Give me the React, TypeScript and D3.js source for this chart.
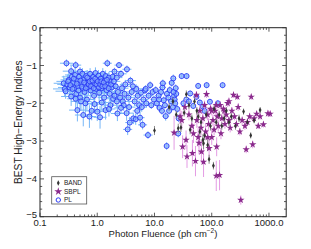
import React from "react";
import * as d3 from "d3";

// PL: [fluence, index, fluence error factor, index error]
const plData: [number, number, number, number][] = [
  [0.29, -0.94, 1.3, 0.1], [0.42, -0.99, 1.25, 0.1], [0.35, -1.15, 1.4, 0.15], [0.5, -1.16, 1.3, 0.12],
  [0.26, -1.47, 1.5, 0.2], [0.27, -1.62, 1.6, 0.2], [0.3, -1.5, 1.5, 0.25], [0.32, -1.38, 1.4, 0.2],
  [0.33, -1.58, 1.6, 0.3], [0.36, -1.3, 1.5, 0.2], [0.38, -1.45, 1.5, 0.25], [0.4, -1.6, 1.4, 0.2],
  [0.41, -1.25, 1.5, 0.2], [0.43, -1.75, 1.5, 0.25], [0.45, -1.4, 1.6, 0.2], [0.46, -1.55, 1.4, 0.2],
  [0.48, -1.3, 1.5, 0.15], [0.5, -1.85, 1.4, 0.3], [0.52, -1.48, 1.6, 0.2], [0.55, -1.22, 1.4, 0.15],
  [0.56, -1.62, 1.5, 0.2], [0.58, -1.38, 1.5, 0.2], [0.6, -1.7, 1.4, 0.25], [0.62, -1.5, 1.5, 0.2],
  [0.64, -1.28, 1.4, 0.15], [0.66, -1.9, 1.4, 0.3], [0.68, -1.45, 1.5, 0.2], [0.7, -1.58, 1.4, 0.2],
  [0.72, -1.35, 1.5, 0.2], [0.75, -1.22, 1.4, 0.15], [0.77, -1.66, 1.5, 0.25], [0.8, -1.42, 1.4, 0.2],
  [0.82, -1.52, 1.5, 0.2], [0.85, -1.3, 1.4, 0.15], [0.88, -1.8, 1.4, 0.25], [0.9, -1.48, 1.5, 0.2],
  [0.93, -1.2, 1.4, 0.15], [0.95, -1.62, 1.4, 0.2], [0.98, -1.38, 1.5, 0.2], [1.0, -1.55, 1.4, 0.2],
  [1.05, -1.27, 1.3, 0.15], [1.08, -1.72, 1.4, 0.25], [1.1, -1.45, 1.4, 0.2], [1.15, -1.35, 1.3, 0.15],
  [1.2, -1.6, 1.4, 0.2], [1.25, -1.22, 1.3, 0.15], [1.28, -1.5, 1.4, 0.2], [1.32, -1.85, 1.3, 0.25],
  [1.35, -1.4, 1.3, 0.15], [1.4, -1.28, 1.3, 0.15], [1.45, -1.65, 1.3, 0.2], [1.5, -0.94, 1.2, 0.1],
  [1.55, -1.48, 1.3, 0.15], [1.6, -1.32, 1.3, 0.15], [1.65, -1.75, 1.3, 0.2], [1.7, -1.42, 1.3, 0.15],
  [1.8, -1.58, 1.3, 0.15], [1.85, -1.3, 1.3, 0.15], [1.9, -1.88, 1.3, 0.2], [2.0, -1.16, 1.25, 0.1],
  [0.45, -2.18, 1.4, 0.3], [0.57, -2.31, 1.4, 0.3], [0.73, -2.35, 1.3, 0.3], [0.8, -2.2, 1.3, 0.25],
  [1.0, -2.22, 1.3, 0.25], [1.12, -2.37, 1.3, 0.3], [1.4, -2.18, 1.3, 0.25], [0.62, -2.0, 1.4, 0.25],
  [0.9, -2.02, 1.4, 0.25], [1.2, -1.98, 1.3, 0.2], [0.35, -1.82, 1.5, 0.25], [0.28, -1.68, 1.5, 0.2],
  [0.52, -1.95, 1.5, 0.25], [0.42, -1.88, 1.4, 0.25], [1.7, -2.05, 1.3, 0.2], [1.6, -2.15, 1.3, 0.2],
  [0.31, -1.42, 1.6, 0.2], [0.34, -1.52, 1.5, 0.2], [0.37, -1.62, 1.5, 0.25], [0.39, -1.35, 1.5, 0.2],
  [0.44, -1.48, 1.5, 0.2], [0.47, -1.66, 1.5, 0.2], [0.51, -1.4, 1.5, 0.2], [0.54, -1.56, 1.5, 0.2],
  [0.59, -1.45, 1.5, 0.2], [0.63, -1.6, 1.5, 0.2], [0.67, -1.32, 1.5, 0.2], [0.71, -1.5, 1.4, 0.2],
  [0.74, -1.42, 1.4, 0.2], [0.78, -1.55, 1.4, 0.2], [0.83, -1.4, 1.4, 0.2], [0.87, -1.6, 1.4, 0.2],
  [0.92, -1.35, 1.4, 0.2], [0.97, -1.5, 1.4, 0.2], [1.02, -1.42, 1.4, 0.2], [1.07, -1.58, 1.4, 0.2],
  [1.13, -1.5, 1.4, 0.2], [1.18, -1.42, 1.3, 0.2], [1.23, -1.55, 1.3, 0.2], [1.3, -1.45, 1.3, 0.15],
  [1.38, -1.55, 1.3, 0.15], [1.48, -1.38, 1.3, 0.15], [1.58, -1.6, 1.3, 0.15], [1.75, -1.5, 1.3, 0.15],
  [1.95, -1.42, 1.3, 0.15], [2.1, -1.55, 1.3, 0.15],
  [2.2, -1.32, 1.25, 0.1], [2.4, -0.99, 1.2, 0.08], [2.6, -1.22, 1.25, 0.1], [3.3, -1.1, 1.2, 0.1],
  [2.3, -1.7, 1.3, 0.15], [2.5, -1.85, 1.3, 0.15], [2.25, -2.27, 1.3, 0.2], [2.7, -1.6, 1.3, 0.15],
  [2.8, -1.95, 1.3, 0.15], [3.0, -1.75, 1.3, 0.15], [3.26, -2.26, 1.3, 0.2], [3.1, -1.5, 1.25, 0.12],
  [3.4, -2.69, 1.2, 0.15], [3.5, -1.85, 1.25, 0.12], [3.7, -2.51, 1.2, 0.15], [3.8, -1.4, 1.25, 0.1],
  [4.0, -1.7, 1.25, 0.12], [4.27, -2.4, 1.2, 0.15], [4.5, -1.95, 1.25, 0.12], [4.7, -2.42, 1.2, 0.15],
  [4.8, -1.62, 1.2, 0.12], [5.1, -1.8, 1.2, 0.12], [5.4, -2.05, 1.2, 0.12], [5.6, -2.38, 1.2, 0.15],
  [5.8, -1.72, 1.2, 0.12], [6.2, -2.57, 1.2, 0.12], [6.4, -1.9, 1.2, 0.12], [6.8, -1.66, 1.2, 0.1],
  [7.2, -2.0, 1.2, 0.12], [7.7, -2.84, 1.2, 0.1], [7.9, -1.8, 1.2, 0.1], [8.4, -1.52, 1.15, 0.1],
  [8.8, -2.05, 1.2, 0.1], [9.3, -1.7, 1.15, 0.1], [9.8, -1.9, 1.15, 0.1], [2.9, -2.05, 1.3, 0.15],
  [3.6, -2.1, 1.3, 0.15], [4.2, -1.55, 1.25, 0.12], [5.0, -2.2, 1.2, 0.12], [6.0, -2.1, 1.2, 0.12],
  [7.0, -1.62, 1.2, 0.1], [2.2, -1.95, 1.3, 0.15], [2.0, -1.8, 1.3, 0.15], [2.6, -2.12, 1.3, 0.15],
  [10.5, -1.65, 1.15, 0.1], [11, -2.0, 1.15, 0.1], [11.8, -1.8, 1.15, 0.1], [12.3, -2.12, 1.15, 0.1],
  [13, -1.7, 1.15, 0.1], [13.8, -1.58, 1.15, 0.1], [14, -1.47, 1.15, 0.1], [14.5, -1.92, 1.15, 0.1],
  [15.2, -2.05, 1.15, 0.1], [15.7, -2.34, 1.15, 0.12], [16.3, -3.13, 1.1, 0.1], [16.5, -1.75, 1.15, 0.1],
  [17.5, -1.85, 1.12, 0.1], [18, -2.2, 1.12, 0.1], [18.5, -1.65, 1.12, 0.1], [19.5, -1.95, 1.12, 0.1],
  [20, -1.46, 1.12, 0.1], [21.3, -1.34, 1.12, 0.1], [21, -2.1, 1.12, 0.1], [22, -1.8, 1.12, 0.1],
  [22.5, -1.9, 1.12, 0.1], [23, -2.0, 1.12, 0.1], [24, -1.75, 1.12, 0.1], [25, -2.15, 1.12, 0.1],
  [26, -2.8, 1.1, 0.1], [26.5, -2.4, 1.1, 0.1], [12, -1.9, 1.15, 0.1], [13.5, -2.2, 1.15, 0.1],
  [21.5, -1.7, 1.12, 0.1], [23.5, -1.6, 1.12, 0.1],
  [29.8, -1.28, 1.1, 0.08], [36.4, -1.28, 1.1, 0.08], [36, -1.9, 1.1, 0.08], [42, -1.74, 1.1, 0.08],
  [47.6, -2.07, 1.1, 0.08], [54, -1.83, 1.1, 0.08], [58, -1.54, 1.1, 0.08], [62, -1.98, 1.1, 0.08],
  [70, -2.09, 1.1, 0.08], [81.5, -1.52, 1.1, 0.08], [93, -1.96, 1.1, 0.08], [128, -2.0, 1.1, 0.08],
  [155, -1.52, 1.1, 0.08], [32, -2.0, 1.1, 0.08], [40, -1.95, 1.1, 0.08], [75, -2.2, 1.1, 0.08],
];

// SBPL: [fluence, index, index error]
const sbplData: [number, number, number][] = [
  [22, -2.78, 0.45], [31, -3.15, 0.3], [35.6, -2.97, 0.25], [37, -3.41, 0.3], [46, -3.32, 0.35],
  [52, -3.53, 0.4], [66, -3.28, 0.3], [72, -3.55, 0.4], [90, -3.19, 0.3], [100, -2.9, 0.2],
  [120, -3.92, 0.4], [137, -3.9, 0.4], [122, -3.15, 0.25], [322, -4.56, 0.12], [400, -3.22, 0.1],
  [520, -3.09, 0.1], [800, -2.56, 0.08], [1050, -2.28, 0.08], [960, -2.27, 0.08], [610, -2.28, 0.08],
  [490, -1.83, 0.08], [280, -1.83, 0.08], [240, -1.78, 0.08], [81, -1.76, 0.1], [54, -1.78, 0.1],
  [40, -2.3, 0.15], [45, -2.6, 0.2], [48, -2.8, 0.25], [55, -2.45, 0.2], [58, -2.9, 0.25],
  [62, -2.2, 0.15], [65, -2.65, 0.2], [70, -2.4, 0.15], [75, -2.05, 0.12], [78, -2.75, 0.2],
  [85, -2.3, 0.15], [88, -2.55, 0.15], [95, -2.15, 0.12], [105, -2.45, 0.15], [110, -2.7, 0.15],
  [115, -2.2, 0.12], [125, -2.35, 0.12], [130, -2.6, 0.15], [140, -2.05, 0.1], [150, -2.4, 0.12],
  [160, -2.15, 0.1], [170, -2.55, 0.12], [180, -2.3, 0.1], [190, -2.0, 0.1], [200, -2.45, 0.1],
  [210, -2.65, 0.12], [225, -2.2, 0.1], [250, -2.35, 0.1], [270, -2.55, 0.1], [290, -2.1, 0.1],
  [310, -2.75, 0.1], [340, -2.45, 0.1], [380, -2.6, 0.1], [420, -2.5, 0.1], [460, -2.35, 0.1],
  [550, -2.4, 0.08], [650, -2.6, 0.08], [700, -2.35, 0.08], [30, -2.45, 0.25], [34, -2.1, 0.2],
  [28, -2.35, 0.2], [60, -3.05, 0.3], [85, -2.9, 0.2], [145, -2.8, 0.15], [165, -2.2, 0.1],
  [120, -2.05, 0.1], [200, -1.95, 0.1], [100, -2.2, 0.12],
];

// BAND: [fluence, index, index error]
const bandData: [number, number, number][] = [
  [10.0, -2.72, 0.12], [26, -2.66, 0.12], [29, -2.64, 0.12], [36, -1.76, 0.1], [62, -2.75, 0.15],
  [70, -2.97, 0.15], [72, -3.06, 0.15], [90, -3.48, 0.12], [107, -3.65, 0.1], [480, -2.85, 0.08],
  [360, -2.22, 0.08], [700, -2.18, 0.08], [18, -2.1, 0.1], [24, -2.3, 0.1], [33, -2.25, 0.1],
  [40, -2.05, 0.1], [45, -2.4, 0.1], [50, -1.95, 0.1], [55, -2.2, 0.1], [65, -2.5, 0.12],
  [80, -2.3, 0.1], [95, -2.6, 0.12], [110, -2.15, 0.1], [120, -2.5, 0.1], [135, -2.3, 0.1],
  [150, -2.6, 0.1], [165, -2.4, 0.1], [180, -2.2, 0.1], [200, -2.5, 0.1], [220, -2.35, 0.1],
  [260, -2.6, 0.1], [300, -2.4, 0.1], [420, -2.5, 0.08], [550, -2.45, 0.08], [75, -2.85, 0.12],
  [85, -3.1, 0.15], [58, -2.35, 0.1], [42, -2.7, 0.12], [21, -1.95, 0.1],
];

const xMajorTicks = [0.1, 1, 10, 100, 1000];
const xTickLabels = ["0.1", "1.0", "10.0", "100.0", "1000.0"];
const yMajorTicks = [0, -1, -2, -3, -4, -5];
const yTickLabels = ["0", "−1", "−2", "−3", "−4", "−5"];
const legendItems = ["BAND", "SBPL", "PL"];

const W = 311;
const H = 249;
const L = 40, R = 286.2, T = 27.7, B = 216.7;
const FONT = "'Liberation Sans', Arial, Helvetica, sans-serif";

const PL_STROKE = "#2a3af5";
const PL_FILL = "#8fb4ff";
const PL_ERR = "#4a9ff5";
const SB_FILL = "#8a2a8c";
const SB_ERR = "#e08be0";
const BAND_FILL = "#333333";
const BAND_ERR = "#8a8a8a";

export default function App() {
  const x = d3.scaleLog().domain([0.1, 2000]).range([L, R]);
  const y = d3.scaleLinear().domain([-5, 0]).range([B, T]);

  const xMinor: number[] = [];
  for (let e = -1; e <= 3; e++) {
    for (let m = 2; m <= 9; m++) {
      const v = m * Math.pow(10, e);
      if (v < 2000) xMinor.push(v);
    }
  }
  const yMinor: number[] = [];
  for (let i = 0; i <= 25; i++) {
    const v = -5 + i * 0.2;
    if (Math.abs(v - Math.round(v)) > 1e-6) yMinor.push(v);
  }

  const star = d3.symbol().type(d3.symbolStar).size(17)()!;
  const smallStar = d3.symbol().type(d3.symbolStar).size(20)()!;
  const diamond = "M0,-2.6L1.4,0L0,2.6L-1.4,0Z";

  const tickColor = "#333";

  return (
    <svg width={W} height={H} style={{ position: "absolute", left: 0, top: 0, background: "#fff" }}
      fontFamily={FONT}>
      <rect x={0} y={0} width={W} height={H} fill="#fff" />
      <defs>
        <clipPath id="plotClip">
          <rect x={L} y={T} width={R - L} height={B - T} />
        </clipPath>
      </defs>
      <g clipPath="url(#plotClip)">
        <g stroke={PL_ERR} strokeWidth={1} opacity={0.75}>
          {plData.map((d, i) => (
            <g key={"pe" + i}>
              <line x1={x(d[0] / d[2])} x2={x(d[0] * d[2])} y1={y(d[1])} y2={y(d[1])} />
              <line x1={x(d[0])} x2={x(d[0])} y1={y(d[1] - d[3])} y2={y(d[1] + d[3])} />
            </g>
          ))}
        </g>
        <g>
          {plData.map((d, i) => (
            <circle key={"pm" + i} cx={x(d[0])} cy={y(d[1])} r={2.5}
              fill={PL_FILL} fillOpacity={0.6} stroke={PL_STROKE} strokeWidth={0.9} />
          ))}
        </g>
        <g stroke={SB_ERR} strokeWidth={1} opacity={0.85}>
          {sbplData.map((d, i) => (
            <line key={"se" + i} x1={x(d[0])} x2={x(d[0])} y1={y(d[1] - d[2])} y2={y(d[1] + d[2])} />
          ))}
        </g>
        <g stroke={BAND_ERR} strokeWidth={1}>
          {bandData.map((d, i) => (
            <line key={"be" + i} x1={x(d[0])} x2={x(d[0])} y1={y(d[1] - d[2])} y2={y(d[1] + d[2])} />
          ))}
        </g>
        <g fill={SB_FILL}>
          {sbplData.map((d, i) => (
            <path key={"sm" + i} d={star} transform={`translate(${x(d[0])},${y(d[1])})`} />
          ))}
        </g>
        <g fill={BAND_FILL}>
          {bandData.map((d, i) => (
            <path key={"bm" + i} d={diamond} transform={`translate(${x(d[0])},${y(d[1])})`} />
          ))}
        </g>
      </g>

      <rect x={L} y={T} width={R - L} height={B - T} fill="none" stroke="#222" strokeWidth={1} />

      <g stroke={tickColor} strokeWidth={0.8}>
        {xMajorTicks.map((v) => (
          <g key={"xM" + v}>
            <line x1={x(v)} x2={x(v)} y1={B} y2={B - 4} />
            <line x1={x(v)} x2={x(v)} y1={T} y2={T + 4} />
          </g>
        ))}
        {xMinor.map((v) => (
          <g key={"xm" + v}>
            <line x1={x(v)} x2={x(v)} y1={B} y2={B - 2.2} />
            <line x1={x(v)} x2={x(v)} y1={T} y2={T + 2.2} />
          </g>
        ))}
        {yMajorTicks.map((v) => (
          <g key={"yM" + v}>
            <line x1={L} x2={L + 4} y1={y(v)} y2={y(v)} />
            <line x1={R} x2={R - 4} y1={y(v)} y2={y(v)} />
          </g>
        ))}
        {yMinor.map((v) => (
          <g key={"ym" + v}>
            <line x1={L} x2={L + 2.2} y1={y(v)} y2={y(v)} />
            <line x1={R} x2={R - 2.2} y1={y(v)} y2={y(v)} />
          </g>
        ))}
      </g>

      <g fontSize={9.5} fill="#222">
        {xMajorTicks.map((v, i) => (
          <text key={"xl" + v} x={x(v)} y={B + 9.3} textAnchor="middle">{xTickLabels[i]}</text>
        ))}
        {yMajorTicks.map((v, i) => (
          <text key={"yl" + v} x={L - 3} y={y(v) + (v === -5 ? 1.2 : 3.3)} textAnchor="end">{yTickLabels[i]}</text>
        ))}
      </g>

      <text x={163} y={237} textAnchor="middle" fontSize={9.5} fill="#222">
        Photon Fluence (ph cm
        <tspan dy={-4} fontSize={6.5}>{"−2"}</tspan>
        <tspan dy={4}>)</tspan>
      </text>
      <text transform={`translate(22,${(T + B) / 2}) rotate(-90)`} textAnchor="middle" fontSize={10.2} fill="#222">
        BEST High−Energy Indices
      </text>

      <g>
        <rect x={51.7} y={176.7} width={35} height={27.3} fill="#fff" stroke="#555" strokeWidth={0.8} />
        {legendItems.map((name, i) => {
          const ly = 183 + i * 8.5;
          return (
            <g key={name}>
              {i === 0 && (
                <g>
                  <line x1={58.3} x2={58.3} y1={ly - 2.5} y2={ly + 2.5} stroke={BAND_ERR} strokeWidth={0.8} />
                  <path d={diamond} fill={BAND_FILL} transform={`translate(58.3,${ly})`} />
                </g>
              )}
              {i === 1 && <path d={smallStar} fill={SB_FILL} transform={`translate(58.3,${ly})`} />}
              {i === 2 && <circle cx={58.3} cy={ly} r={2.2} fill="none" stroke={PL_STROKE} strokeWidth={1} />}
              <text x={64} y={ly + 2.4} fontSize={6.5} fill="#222">{name}</text>
            </g>
          );
        })}
      </g>
    </svg>
  );
}
